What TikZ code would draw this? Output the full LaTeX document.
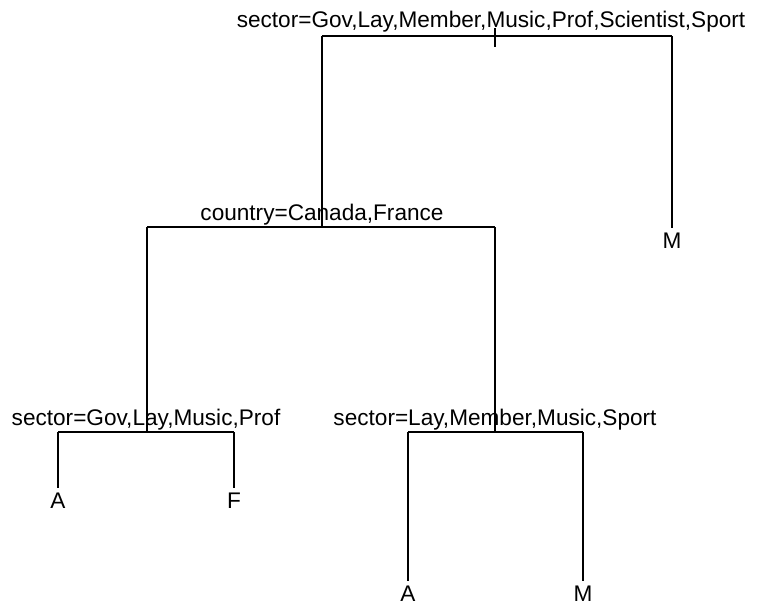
\documentclass[tikz,border=0pt]{standalone}
\usepackage{fontspec}
\setmainfont{Liberation Sans}

\begin{document}
\begin{tikzpicture}[x=1pt,y=-1pt,line width=1.2pt,
    split/.style={anchor=base,inner sep=0pt,font=\fontsize{22.6}{26}\selectfont},
    leaf/.style={inner sep=0pt,outer sep=5pt,font=\fontsize{22.6}{26}\selectfont}]
    \useasboundingbox (0,0) rectangle (757,608);

    % split labels
    \node[split] (root) at (491,27) {sector=Gov,Lay,Member,Music,Prof,Scientist,Sport};
    \node[split] (ctry) at (322,220) {country=Canada,France};
    \node[split] (secl) at (146,425) {sector=Gov,Lay,Music,Prof};
    \node[split] (secr) at (495,425) {sector=Lay,Member,Music,Sport};

    % leaves
    \node[leaf] (m1) at (672,241) {M};
    \node[leaf] (a1) at (58,501) {A};
    \node[leaf] (f1) at (234,501) {F};
    \node[leaf] (a2) at (408,594) {A};
    \node[leaf] (m2) at (583,594) {M};

    % junctions
    \coordinate (rt) at (495,28);
    \coordinate (rb) at (495,47);
    \coordinate (rl) at (322,36);
    \coordinate (rr) at (672,36);
    \coordinate (c) at (322,227);
    \coordinate (cl) at (147,227);
    \coordinate (cr) at (495,227);
    \coordinate (sl) at (147,432);
    \coordinate (sll) at (58,432);
    \coordinate (slr) at (234,432);
    \coordinate (sr) at (495,432);
    \coordinate (srl) at (408,432);
    \coordinate (srr) at (583,432);

    \draw (rt) -- (rb);
    \draw (rl) -- (rr);
    \draw (rl) -- (c);
    \draw (rr) -- (m1);

    \draw (cl) -- (cr);
    \draw (cl) -- (sl);
    \draw (cr) -- (sr);

    \draw (sll) -- (slr);
    \draw (sll) -- (a1);
    \draw (slr) -- (f1);

    \draw (srl) -- (srr);
    \draw (srl) -- (a2);
    \draw (srr) -- (m2);
\end{tikzpicture}
\end{document}
